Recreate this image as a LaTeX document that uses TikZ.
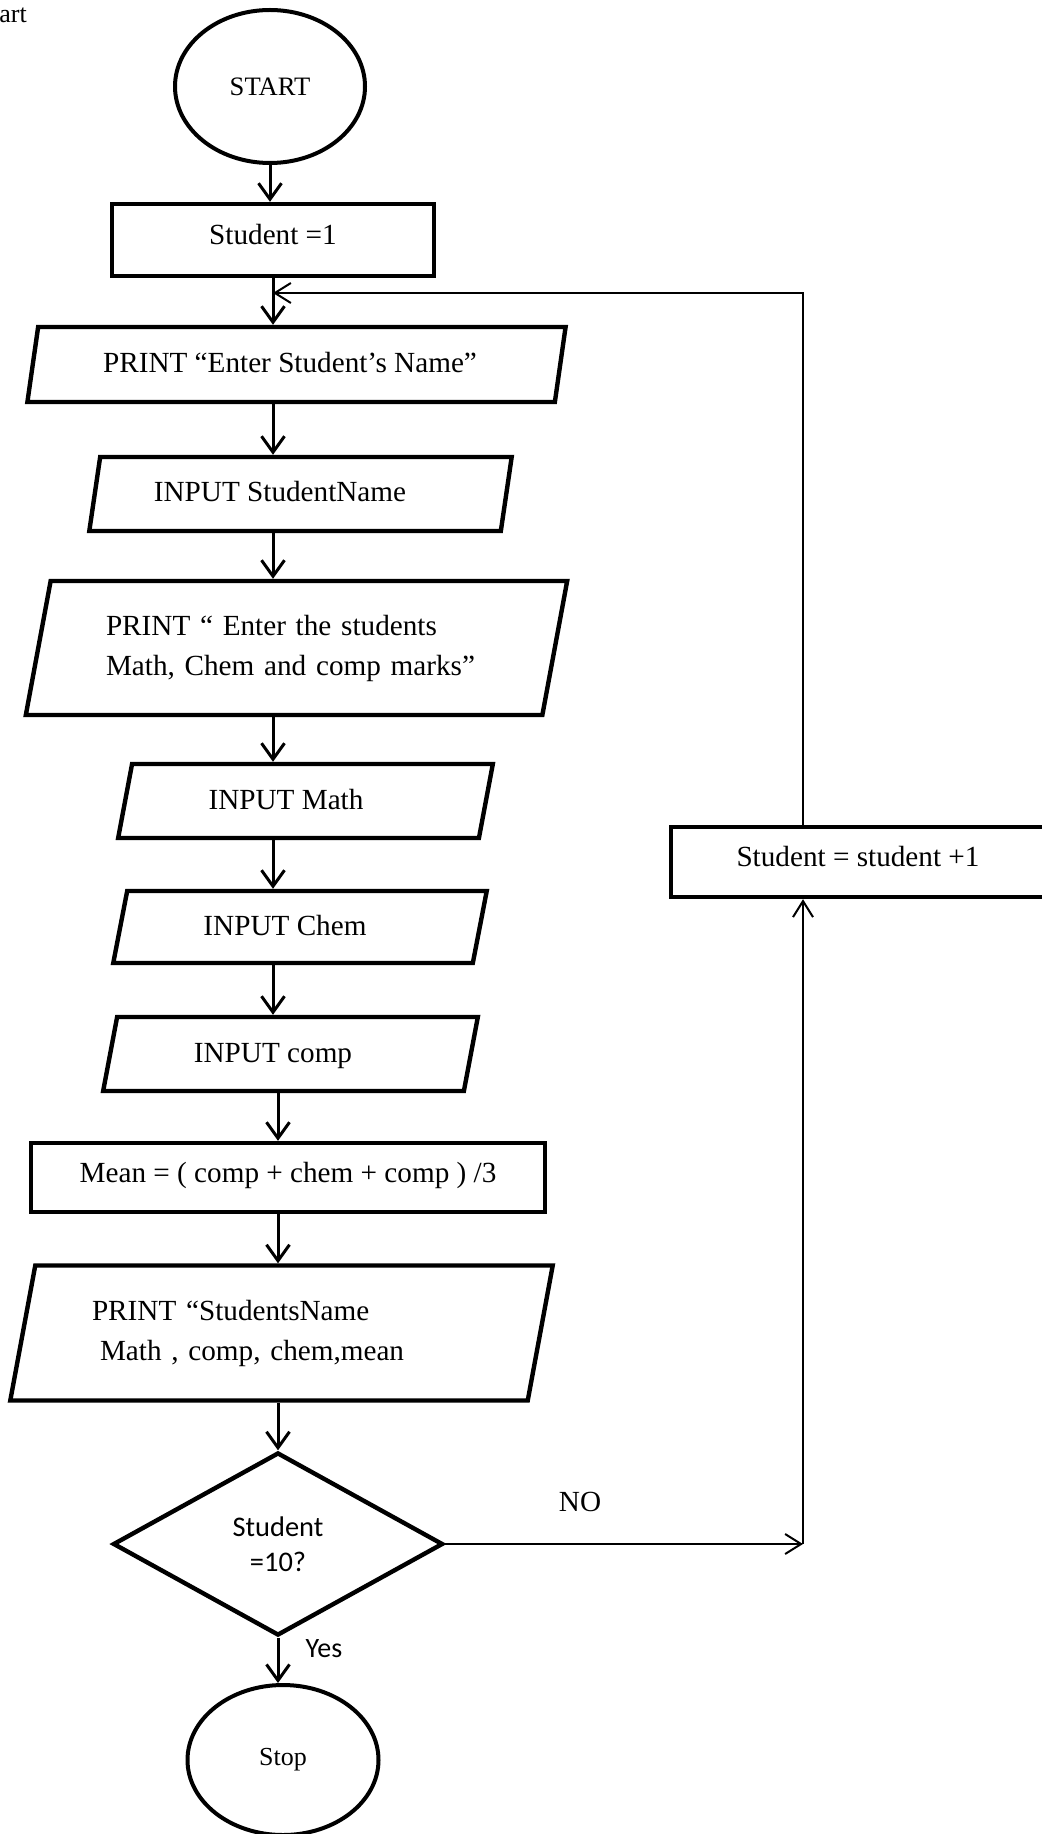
\documentclass[tikz,border=0pt]{standalone}
\usepackage{fontspec}
\setmainfont{Liberation Serif}
\newfontfamily\calibrifont{Carlito}
\usetikzlibrary{shapes.geometric,arrows.meta}
\newcommand\chartfont{\fontsize{14.6}{20}\selectfont}

\begin{document}
\begin{tikzpicture}[
    x=0.5pt,
    y=-0.5pt,
    every node/.style={font=\chartfont},
    terminal/.style={draw, ellipse, line width=2pt, inner sep=0pt},
    box/.style={draw, rectangle, line width=2.2pt, text height=0.7em, text depth=0.25em},
    io/.style={draw, trapezium, trapezium left angle=76, trapezium right angle=104,
      trapezium stretches=true, line width=2.2pt, text height=0.9em, text depth=0.1em},
    decision/.style={draw, diamond, line width=2.2pt, inner sep=0pt, align=center,
      font={\calibrifont\fontsize{14.2}{17.5}\selectfont}},
    flow/.style={-{Straight Barb[length=8pt,width=11.5pt]}, line width=1.5pt},
    loopline/.style={-{Straight Barb[length=8pt,width=10pt]}, line width=1pt},
    padr/.style={execute at end node={\hspace*{#1}}}
  ]
    \path[use as bounding box, fill=white] (0,0) rectangle (1041,1834);
    \node[anchor=base west, inner sep=0pt, font=\fontsize{13}{15}\selectfont] (caption) at (-1,23) {art};

    % main column
    \node[terminal, minimum width=95pt, minimum height=76.5pt,
      font=\fontsize{13.3}{16}\selectfont] (start) at (270,86.5) {START};
    \node[box, minimum width=161pt, minimum height=36pt] (s1) at (273,240) {Student =1};
    \node[io, minimum width=269.5pt, minimum height=37.5pt, padr=6.5pt] (pname) at (296.5,364.5)
      {PRINT “Enter Student’s Name”};
    \node[io, minimum width=211.5pt, minimum height=37pt, padr=20.5pt] (iname) at (300.5,494)
      {INPUT StudentName};
    \node[io, minimum width=271.5pt, minimum height=67pt, text height=, text depth=,
      align=left, text width=190.5pt] (pmarks) at (296.5,648)
      {PRINT “ Enter the students\\Math, Chem and comp marks”};
    \node[io, minimum width=187.5pt, minimum height=37pt, padr=19.5pt] (imath) at (305.5,801) {INPUT Math};
    \node[io, minimum width=187pt, minimum height=36pt, padr=15pt] (ichem) at (300,927) {INPUT Chem};
    \node[io, minimum width=187.5pt, minimum height=37pt, padr=17.5pt] (icomp) at (290.5,1054) {INPUT comp};
    \node[box, minimum width=257pt, minimum height=34.5pt] (mean) at (288,1177.5)
      {Mean = ( comp + chem + comp ) /3};
    \node[io, minimum width=271.5pt, minimum height=67.5pt, text height=, text depth=,
      align=left, text width=189.5pt] (pfinal) at (281.5,1333)
      {PRINT “StudentsName\\\hspace*{4pt}Math , comp, chem,mean};
    \node[decision, minimum width=165pt, minimum height=91.5pt] (dec) at (278,1544) {Student\\=10?};
    \node[terminal, minimum width=95.5pt, minimum height=75pt,
      font=\fontsize{13}{16}\selectfont] (stop) at (283,1760) {Stop};

    % loop back
    \node[box, minimum width=187pt, minimum height=35pt] (inc) at (858,862) {Student = student +1};
    \coordinate (looptop) at (803,293);
    \coordinate (nocorner) at (dec.east -| looptop);

    \node (no) at (580,1502) {NO};
    \node[font={\calibrifont\fontsize{14}{17}\selectfont}] (yes) at (324,1649) {Yes};

    \draw[flow] (start) -- (start |- s1.north);
    \draw[flow] (s1) -- (s1 |- pname.north);
    \draw[flow] (pname.south -| s1) -- (iname.north -| s1);
    \draw[flow] (iname.south -| s1) -- (pmarks.north -| s1);
    \draw[flow] (pmarks.south -| s1) -- (imath.north -| s1);
    \draw[flow] (imath.south -| s1) -- (ichem.north -| s1);
    \draw[flow] (ichem.south -| s1) -- (icomp.north -| s1);
    \draw[flow] (icomp.south -| dec) -- (mean.north -| dec);
    \draw[flow] (mean.south -| dec) -- (pfinal.north -| dec);
    \draw[flow] (pfinal.south -| dec) -- (dec);
    \draw[flow] (dec) -- (dec |- stop.north);

    \draw[loopline] (dec) -- (nocorner);
    \draw[loopline] (nocorner) -- (inc.south -| nocorner);
    \draw[loopline] (inc.north -| looptop) -- (looptop) -- (looptop -| s1);
\end{tikzpicture}
\end{document}
